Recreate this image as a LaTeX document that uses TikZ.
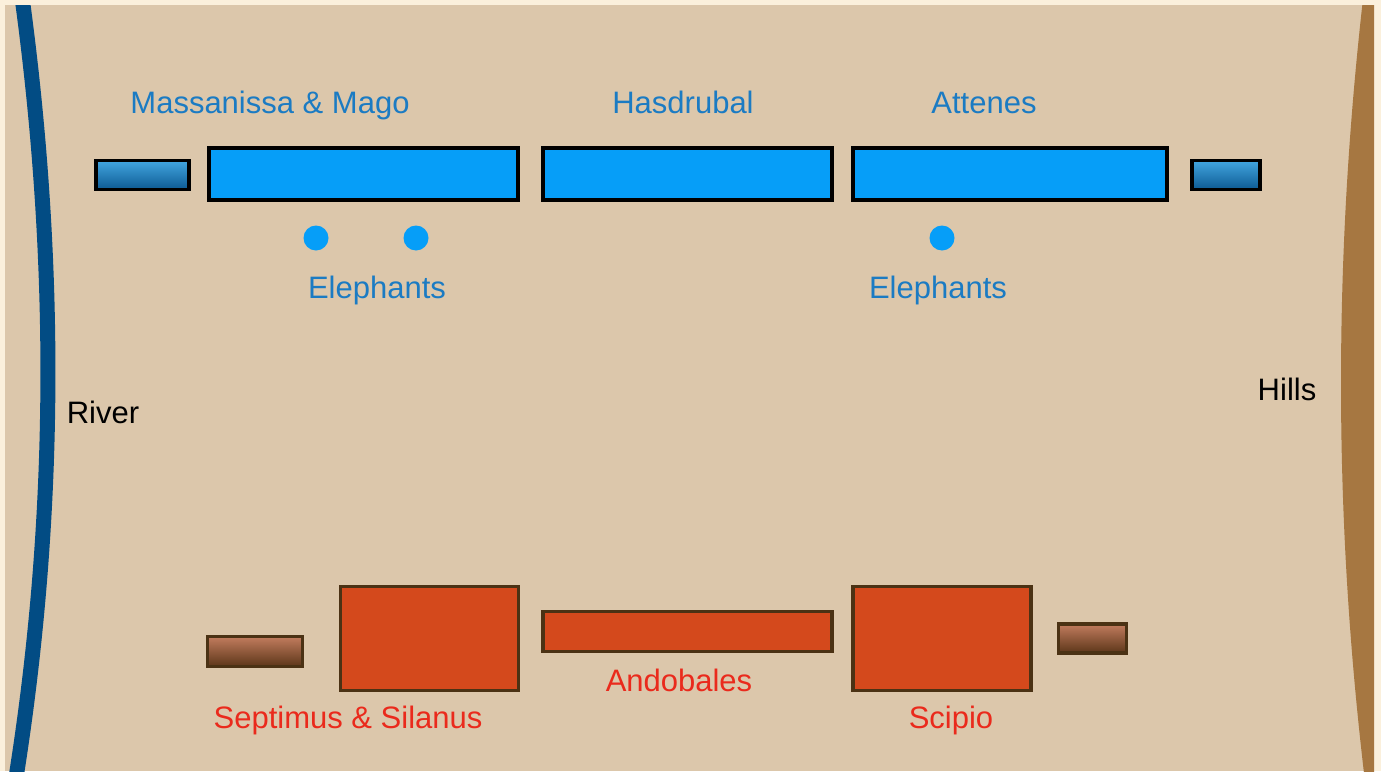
\documentclass[tikz,border=0pt]{standalone}
\usepackage{fontspec}
\setmainfont{Liberation Sans}
\definecolor{cream}{HTML}{FBF0DC}
\definecolor{parchment}{HTML}{DCC7AB}
\definecolor{river}{HTML}{024C84}
\definecolor{hills}{HTML}{A67741}
\definecolor{carthfill}{HTML}{069EF8}
\definecolor{carthtext}{HTML}{1B7BC3}
\definecolor{carthtop}{HTML}{42A6E0}
\definecolor{carthbot}{HTML}{0D5A93}
\definecolor{romefill}{HTML}{D4491C}
\definecolor{romeedge}{HTML}{4B3214}
\definecolor{rometext}{HTML}{EA2A1C}
\definecolor{rometop}{HTML}{C27C5E}
\definecolor{romebot}{HTML}{5C3619}
\tikzset{
  unitbox/.style={rectangle, inner sep=0pt, line width=3.3pt},
  carthinf/.style={unitbox, draw=black, fill=carthfill},
  carthcav/.style={unitbox, draw=black, top color=carthtop, bottom color=carthbot},
  rominf/.style={unitbox, draw=romeedge, fill=romefill},
  romcav/.style={unitbox, draw=romeedge, top color=rometop, bottom color=romebot},
  elephant/.style={circle, inner sep=0pt, minimum size=25pt, fill=carthfill},
  lbl/.style={font=\fontsize{31}{36}\selectfont, inner sep=0pt, anchor=base},
  carthlbl/.style={lbl, text=carthtext},
  romelbl/.style={lbl, text=rometext},
  terrain/.style={lbl, text=black},
}
\begin{document}
\begin{tikzpicture}[x=1pt,y=-1pt]
  % page and parchment
  \fill[cream] (0,0) rectangle (1381,771);
  \useasboundingbox (0,0) rectangle (1381,771);
  \fill[parchment] (5,5) rectangle (1374,771);
  \begin{scope}
    \clip (5,5) rectangle (1374,771);
    % river on the left flank
    \draw[river, line width=15pt] (21,-10) .. controls (58,258) and (58,520) .. (14,790);
    % hills on the right flank
    \fill[hills] (1364,-10) .. controls (1333,258) and (1333,520) .. (1366,790)
      -- (1390,790) -- (1390,-10) -- cycle;
  \end{scope}

  % Carthaginian line
  \node[carthcav, minimum width=93pt, minimum height=29pt] (cl) at (142.5,175) {};
  \node[carthinf, minimum width=309pt, minimum height=52pt] (mm) at (363.5,174) {};
  \node[carthinf, minimum width=289pt, minimum height=52pt] (ha) at (687.5,174) {};
  \node[carthinf, minimum width=314pt, minimum height=52pt] (at) at (1010,174) {};
  \node[carthcav, minimum width=68pt, minimum height=29pt] (cr) at (1226,175) {};
  \node[elephant] (e1) at (316,238) {};
  \node[elephant] (e2) at (416,238) {};
  \node[elephant] (e3) at (942,238) {};

  \node[carthlbl] (lmm) at (270,113) {Massanissa \& Mago};
  \node[carthlbl] (lha) at (683,113) {Hasdrubal};
  \node[carthlbl] (lat) at (984,113) {Attenes};
  \node[carthlbl] (le1) at (377,298) {Elephants};
  \node[carthlbl] (le2) at (938,298) {Elephants};

  % Roman line
  \node[romcav, minimum width=95pt, minimum height=30pt] (rl) at (255,651.5) {};
  \node[rominf, minimum width=178pt, minimum height=104pt] (ss) at (429.5,638.5) {};
  \node[rominf, minimum width=289pt, minimum height=40pt] (an) at (687.5,631.5) {};
  \node[rominf, minimum width=178pt, minimum height=104pt] (sc) at (942,638.5) {};
  \node[romcav, minimum width=68pt, minimum height=29pt] (rr) at (1092.5,638.5) {};

  \node[romelbl] (lss) at (348,728) {Septimus \& Silanus};
  \node[romelbl] (lan) at (679,691) {Andobales};
  \node[romelbl] (lsc) at (951,728) {Scipio};

  % terrain names
  \node[terrain] (lriver) at (103,423) {River};
  \node[terrain] (lhills) at (1287,400) {Hills};
\end{tikzpicture}
\end{document}
